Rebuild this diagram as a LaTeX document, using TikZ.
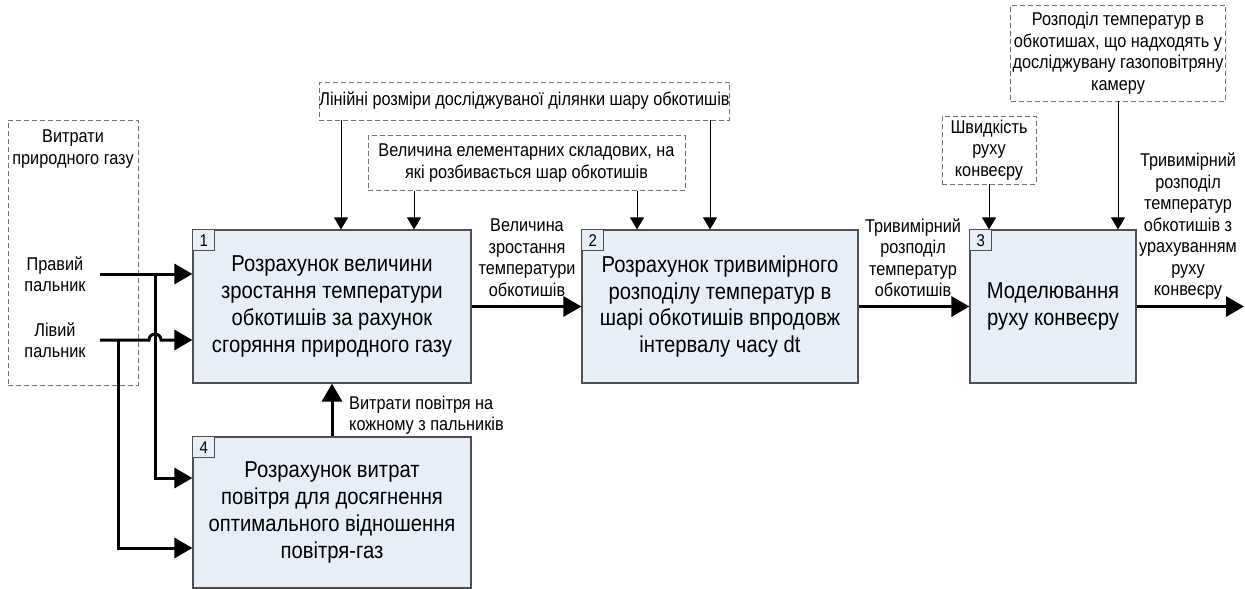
\documentclass[tikz,border=0pt]{standalone}
\usepackage{fontspec}
\setmainfont{Liberation Sans}[FakeStretch=0.88]
\usetikzlibrary{arrows.meta}
\definecolor{boxfill}{HTML}{E8EEF8}
\definecolor{boxline}{HTML}{505050}

\begin{document}
\begin{tikzpicture}[x=1pt,y=-1pt,
    blok/.style={draw=boxline,line width=1.2pt,fill=boxfill,align=center,
      inner sep=0pt,font=\fontsize{23}{26.7}\selectfont},
    nomer/.style={draw=boxline,line width=0.8pt,fill=boxfill,anchor=north west,
      minimum width=22pt,minimum height=21pt,inner sep=0pt,
      font=\fontsize{17}{17}\selectfont},
    dashbox/.style={draw=black!55,dash pattern=on 5pt off 3pt,line width=0.9pt,
      align=center,inner sep=0pt,font=\fontsize{18.5}{21.5}\selectfont},
    lbl/.style={align=center,inner sep=0pt,font=\fontsize{18.5}{21.5}\selectfont},
    flow/.style={line width=3pt,-{Triangle[length=18pt,width=20pt]}},
    ctl/.style={line width=1pt,-{Triangle[length=12pt,width=14pt]}}]
      \useasboundingbox (0,0) rectangle (1245,589);
      % function blocks
      \node[blok,minimum width=278pt,minimum height=153pt] (b1) at (332,306.5)
        {Розрахунок величини\\зростання температури\\обкотишів за рахунок\\сгоряння природного газу};
      \node[blok,minimum width=276pt,minimum height=153pt] (b2) at (720,306.5)
        {Розрахунок тривимірного\\розподілу температур в\\шарі обкотишів впродовж\\інтервалу часу dt};
      \node[blok,minimum width=166pt,minimum height=153pt] (b3) at (1053,306.5)
        {Моделювання\\руху конвеєру};
      \node[blok,minimum width=278pt,minimum height=151pt] (b4) at (332,512.5)
        {Розрахунок витрат\\повітря для досягнення\\оптимального відношення\\повітря-газ};
      \node[nomer] (n1) at (b1.north west) {1};
      \node[nomer] (n2) at (b2.north west) {2};
      \node[nomer] (n3) at (b3.north west) {3};
      \node[nomer] (n4) at (b4.north west) {4};
      % input data
      \node[dashbox,minimum width=130pt,minimum height=265pt] (gas) at (73,252.5) {};
      \node[lbl] (gastxt) at (73,149) {Витрати\\природного газу};
      \node[lbl] (pr) at (55,274) {Правий\\пальник};
      \node[lbl] (lv) at (55,340) {Лівий\\пальник};
      \node[dashbox,minimum width=403pt,minimum height=38pt] (lin) at (524.5,101)
        {Лінійні розміри досліджуваної ділянки шару обкотишів};
      \node[dashbox,minimum width=317pt,minimum height=55pt] (vel) at (526.5,163)
        {Величина елементарних складових, на\\які розбивається шар обкотишів};
      \node[dashbox,minimum width=94pt,minimum height=68pt] (shv) at (989,150)
        {Швидкість\\руху\\конвеєру};
      \node[dashbox,minimum width=215pt,minimum height=96pt] (rozp) at (1118,53)
        {Розподіл температур в\\обкотишах, що надходять у\\досліджувану газоповітряну\\камеру};
      % flow labels
      \node[lbl] (l12) at (527,257.5) {Величина\\зростання\\температури\\обкотишів};
      \node[lbl] (l23) at (913,257.5) {Тривимірний\\розподіл\\температур\\обкотишів};
      \node[lbl] (lout) at (1188,226.5)
        {Тривимірний\\розподіл\\температур\\обкотишів з\\урахуванням\\руху\\конвеєру};
      \node[lbl,anchor=west,align=left] (lpov) at (349,415)
        {Витрати повітря на\\кожному з пальників};
      \coordinate (prs) at (100,274);
      \coordinate (lvs) at (100,340);
      \coordinate (j1) at (155,274);
      \coordinate (j2) at (118,340);
      \coordinate (vyh) at (1244,306.5);
      % thin arrows from data
      \draw[ctl] ([xshift=-183.5pt]lin.south) -- ([xshift=9pt]b1.north);
      \draw[ctl] ([xshift=185.5pt]lin.south) -- ([xshift=-10pt]b2.north);
      \draw[ctl] ([xshift=-112.5pt]vel.south) -- ([xshift=82pt]b1.north);
      \draw[ctl] ([xshift=110.5pt]vel.south) -- ([xshift=-83pt]b2.north);
      \draw[ctl] (shv.south) -- ([xshift=-64pt]b3.north);
      \draw[ctl] (rozp.south) -- ([xshift=65pt]b3.north);
      % thick flows
      \draw[flow] (prs) -- ([yshift=32.5pt]b1.west);
      \draw[flow] (lvs) -- ++(49,0) arc[start angle=180,end angle=0,radius=6pt]
        -- ([yshift=-33.5pt]b1.west);
      \draw[flow] (j1) |- ([yshift=34.5pt]b4.west);
      \draw[flow] (j2) |- ([yshift=-35.5pt]b4.west);
      \draw[flow] (b4.north) -- (b1.south);
      \draw[flow] (b1) -- (b2);
      \draw[flow] (b2) -- (b3);
      \draw[flow] (b3) -- (vyh);
    \end{tikzpicture}
\end{document}
